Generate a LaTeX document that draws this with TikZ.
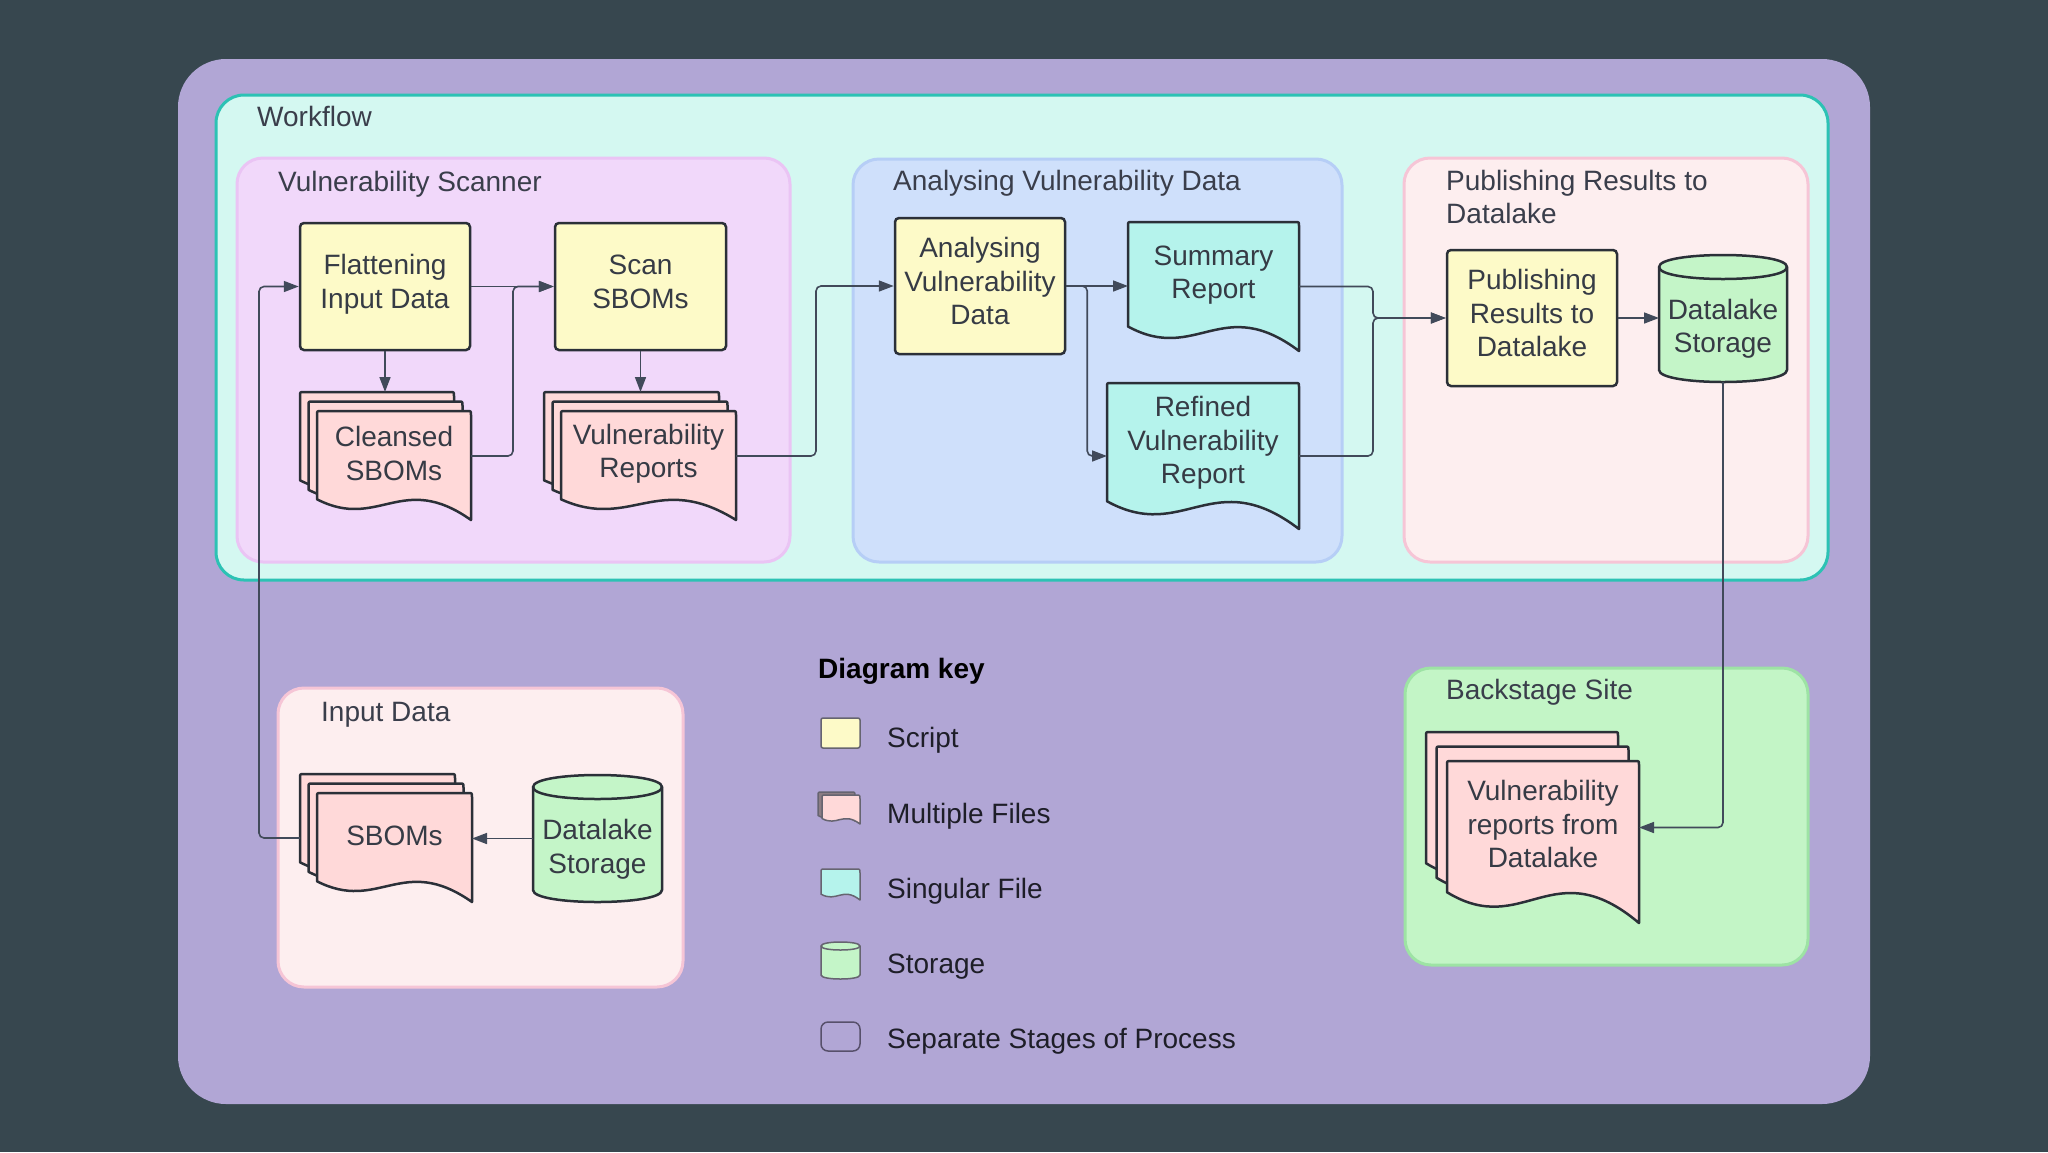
\documentclass[tikz,border=0pt]{standalone}
\usepackage{fontspec}
\setmainfont{Liberation Sans}
\usetikzlibrary{arrows.meta,calc}

\definecolor{bgdark}{HTML}{37474F}
\definecolor{panel}{HTML}{B1A6D5}
\definecolor{wfFill}{HTML}{D4F8F1}
\definecolor{wfLine}{HTML}{2CC2B4}
\definecolor{vsFill}{HTML}{F1D8FA}
\definecolor{vsLine}{HTML}{EAC4F4}
\definecolor{avFill}{HTML}{CFE0FB}
\definecolor{avLine}{HTML}{B6CEF6}
\definecolor{prFill}{HTML}{FDEEEF}
\definecolor{prLine}{HTML}{F6C5D6}
\definecolor{bsFill}{HTML}{C3F5C6}
\definecolor{bsLine}{HTML}{9DE3A4}
\definecolor{scriptFill}{HTML}{FDFAC8}
\definecolor{multiFill}{HTML}{FFD9D9}
\definecolor{multiBack}{HTML}{8B7D84}
\definecolor{singleFill}{HTML}{B5F3EC}
\definecolor{storeFill}{HTML}{C4F5C8}
\definecolor{ink}{HTML}{2B3038}
\definecolor{txt}{HTML}{363B45}
\definecolor{ttl}{HTML}{3A3E4B}
\definecolor{edgec}{HTML}{414A5A}
\definecolor{keygray}{HTML}{666470}
\definecolor{keyink}{HTML}{1E1E28}
\definecolor{stageline}{HTML}{57506B}

\newcommand\nf{\fontsize{28}{33.5}\selectfont}

% one document sheet: [style]{x0}{y0}{w}{h}{fill}
\newcommand\docsheet[6][docline]{%
  \filldraw[#1, fill=#6] ({#2},{#3+0.81*#5}) -- ({#2},{#3+4})
    .. controls ({#2},{#3}) .. ({#2+4},{#3}) -- ({#2+#4-4},{#3})
    .. controls ({#2+#4},{#3}) .. ({#2+#4},{#3+4}) -- ({#2+#4},{#3+#5})
    .. controls ({#2+0.55*#4},{#3+0.55*#5}) and ({#2+0.4*#4},{#3+1.1*#5}) .. ({#2},{#3+0.81*#5}) -- cycle;
}
% stack of three sheets: {name}{x0}{y0}{w}{h}{dx}{dy}{fill}{text}
\newcommand\docstack[9]{%
  \docsheet{#2}{#3}{#4}{#5}{#8}
  \docsheet{#2+#6}{#3+#7}{#4}{#5}{#8}
  \docsheet{#2+2*#6}{#3+2*#7}{#4}{#5}{#8}
  \node[holder, minimum width={#4+2*#6}, minimum height={#5+2*#7}] (#1) at ({#2+#6+#4/2},{#3+#7+#5/2}) {};
  \node[doctext] (#1t) at ({#2+2*#6+#4/2},{#3+2*#7+0.39*#5}) {#9};
}
% single sheet: {name}{x0}{y0}{w}{h}{fill}{text}
\newcommand\singledoc[7]{%
  \docsheet{#2}{#3}{#4}{#5}{#6}
  \node[holder, minimum width={#4}, minimum height={#5}] (#1) at ({#2+#4/2},{#3+#5/2}) {};
  \node[doctext] (#1t) at ({#2+#4/2},{#3+0.41*#5}) {#7};
}
% cylinder path: [style]{x0}{y0}{x1}{y1}{ry}
\newcommand\cylpath[6][docline]{%
  \filldraw[#1, fill=storeFill] ({#2},{#3+#6}) -- ({#2},{#5-#6})
    .. controls ({#2},{#5+#6/3}) and ({#4},{#5+#6/3}) .. ({#4},{#5-#6})
    -- ({#4},{#3+#6})
    .. controls ({#4},{#3-#6/3}) and ({#2},{#3-#6/3}) .. ({#2},{#3+#6}) -- cycle;
  \draw[#1] ({#2},{#3+#6}) .. controls ({#2},{#3+7*#6/3}) and ({#4},{#3+7*#6/3}) .. ({#4},{#3+#6});
}
% storage node: {name}{x0}{y0}{x1}{y1}{ry}{text}
\newcommand\storecyl[7]{%
  \cylpath{#2}{#3}{#4}{#5}{#6}
  \node[holder, minimum width={#4-#2}, minimum height={#5-#3}] (#1) at ({(#2+#4)/2},{(#3+#5)/2}) {};
  \node[doctext] (#1t) at ({(#2+#4)/2},{(#3+#5)/2+10.5}) {#7};
}

\tikzset{
  docline/.style={draw=ink, line width=2.5pt, line join=round},
  keyline/.style={draw=keygray, line width=1.5pt, line join=round},
  scriptbox/.style={draw=ink, fill=scriptFill, line width=2.5pt, rounded corners=4pt,
    align=center, text=txt, font=\nf, inner sep=0pt, text depth=10pt},
  holder/.style={inner sep=0pt, outer sep=0pt, draw=none, fill=none},
  doctext/.style={align=center, text=txt, font=\nf, inner sep=0pt},
  stitle/.style={anchor=base west, text=ttl, font=\nf, inner sep=0pt},
  keytext/.style={anchor=base west, text=keyink, font=\nf, inner sep=0pt},
  stage/.style={line width=3pt, rounded corners=26pt},
  conn/.style={draw=edgec, line width=1.6pt, rounded corners=5pt,
    -{Triangle[length=15pt,width=11pt]}},
}

\begin{document}
\begin{tikzpicture}[x=1pt,y=-1pt]
\fill[bgdark] (0,0) rectangle (2048,1152);
\useasboundingbox (0,0) rectangle (2048,1152);

% panel and stages
\fill[panel, rounded corners=48pt] (178,59) rectangle (1870,1104);
\draw[stage, draw=wfLine, fill=wfFill, rounded corners=28pt] (216,95) rectangle (1828,580);
\draw[stage, draw=vsLine, fill=vsFill] (237,158) rectangle (790,562);
\draw[stage, draw=avLine, fill=avFill] (853,159) rectangle (1342,562);
\draw[stage, draw=prLine, fill=prFill] (1404,158) rectangle (1808,562);
\draw[stage, draw=prLine, fill=prFill] (278,688) rectangle (683,987);
\draw[stage, draw=bsLine, fill=bsFill] (1405,668) rectangle (1808,965);

% titles
\node[stitle] (twf) at (257,126) {Workflow};
\node[stitle] (tvs) at (278,191) {Vulnerability Scanner};
\node[stitle] (tav) at (893,190) {Analysing Vulnerability Data};
\node[stitle] (tpr1) at (1446,190) {Publishing Results to};
\node[stitle] (tpr2) at (1446,223) {Datalake};
\node[stitle] (tin) at (321,721) {Input Data};
\node[stitle] (tbs) at (1446,699) {Backstage Site};

% Vulnerability scanner
\node[scriptbox, minimum width=170, minimum height=127] (flat) at (385,286.5) {Flattening\\Input Data};
\node[scriptbox, minimum width=171, minimum height=127] (scan) at (640.5,286.5) {Scan\\SBOMs};
\docstack{cleansed}{300}{392}{154}{109}{8.5}{9.5}{multiFill}{Cleansed\\SBOMs}
\docstack{vrep}{544}{392}{175}{109}{8.5}{9.5}{multiFill}{Vulnerability\\Reports}

% Analysing
\node[scriptbox, minimum width=170, minimum height=136] (avd) at (980,286) {Analysing\\Vulnerability\\Data};
\singledoc{summary}{1128}{222}{171}{129}{singleFill}{Summary\\Report}
\singledoc{refined}{1107}{383}{192}{146}{singleFill}{Refined\\Vulnerability\\Report}

% Publishing
\node[scriptbox, minimum width=170, minimum height=136] (pub) at (1532,318) {Publishing\\Results to\\Datalake};
\storecyl{dls}{1659}{255}{1787}{382}{12}{Datalake\\Storage}

% Input data
\docstack{sboms}{300}{774}{155}{109}{8.5}{9.5}{multiFill}{SBOMs}
\storecyl{dli}{533}{775}{662}{902}{12}{Datalake\\Storage}

% Backstage
\docstack{vrd}{1426}{732}{192}{162}{10.5}{14.5}{multiFill}{Vulnerability\\reports from\\Datalake}

% connectors
\draw[conn] (sboms.west) -- ++(-41,0) |- (flat.west);
\draw[conn] (flat.south) -- (flat.south |- cleansed.north);
\draw[conn] (flat.east) -- (scan.west);
\draw[conn] (cleansed.east) -- ++(42,0) |- (scan.west);
\draw[conn] (scan.south) -- (scan.south |- vrep.north);
\draw[conn] (vrep.east) -- ++(80,0) |- (avd.west);
\draw[conn] (avd.east) -- (avd.east -| summary.west);
\draw[conn] (avd.east) -- ++(21,0) |- (refined.west);
\draw[conn] (summary.east) -- ++(74,0) |- (pub.west);
\draw[conn] (refined.east) -- ++(74,0) |- (pub.west);
\draw[conn] (pub.east) -- (pub.east -| dls.west);
\draw[conn] (dls.south) |- (vrd.east);
\draw[conn] (dli.west) -- (dli.west -| sboms.east);

% key
\node[anchor=base west, inner sep=0pt, font=\nf\bfseries, text=black] (keyhead) at (818,678) {Diagram key};
\draw[keyline, fill=scriptFill, rounded corners=2pt] (821,718) rectangle (860,748);
\node[keytext] (k1) at (887,747) {Script};
\docsheet[keyline]{818}{792}{37}{29}{multiBack}
\docsheet[keyline]{822}{795}{38}{29}{multiFill}
\node[keytext] (k2) at (887,823) {Multiple Files};
\docsheet[keyline]{821}{869}{39}{31}{singleFill}
\node[keytext] (k3) at (887,898) {Singular File};
\cylpath[keyline]{821}{942}{860}{979}{4}
\node[keytext] (k4) at (887,973) {Storage};
\draw[line width=1.5pt, draw=stageline, rounded corners=7pt] (821,1022) rectangle (860,1051);
\node[keytext] (k5) at (887,1048) {Separate Stages of Process};
\end{tikzpicture}
\end{document}
